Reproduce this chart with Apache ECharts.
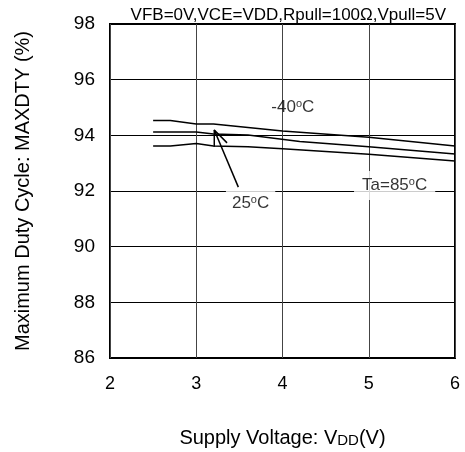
<!DOCTYPE html>
<html>
<head>
<meta charset="utf-8">
<script src="https://cdn.jsdelivr.net/npm/echarts@6/dist/echarts.min.js"></script>
<style>html,body{margin:0;padding:0;background:#fff}#c{width:465px;height:452px}</style>
</head>
<body>
<div id="c"></div>
<script>
// Data
const voltages40 = [2.5, 2.7, 3.0, 3.2, 4.0, 5.0, 6.0];
const duty40     = [94.53, 94.53, 94.41, 94.41, 94.16, 93.93, 93.62];
const voltages25 = [2.5, 3.0, 3.2, 3.6, 4.2, 5.0, 6.0];
const duty25     = [94.12, 94.12, 94.05, 94.01, 93.78, 93.59, 93.33];
const voltages85 = [2.5, 2.7, 3.0, 3.2, 3.6, 4.0, 5.0, 6.0];
const duty85     = [93.62, 93.62, 93.71, 93.62, 93.59, 93.52, 93.32, 93.08];
const xTicks = [2, 3, 4, 5, 6];
const yTicks = [86, 88, 90, 92, 94, 96, 98];
const titleText = 'VFB=0V,VCE=VDD,Rpull=100\u03A9,Vpull=5V';
// annotation anchors (data space)
const arrowShaft = [[3.488, 92.14], [3.209, 94.19]];
const arrowHead  = [[3.357, 93.73], [3.209, 94.19], [3.209, 93.59]];
const labelM40 = [4.12, 95.02];
const label25  = [3.63, 91.6];
const label85  = [5.30, 92.2];

const zip = (xs, ys) => xs.map((x, i) => [x, ys[i]]);
const FF = 'Liberation Sans, Arial, sans-serif';
const sup = {fontSize: 11, verticalAlign: 'top', lineHeight: 14, fontFamily: FF, color: '#000'};
const lineStyle = {color: '#000', width: 1.5};

const chart = echarts.init(document.getElementById('c'), null, {renderer: 'canvas'});
chart.setOption({
  animation: false,
  backgroundColor: '#fff',
  title: {
    text: titleText, right: 14, top: 2,
    textStyle: {fontFamily: FF, fontSize: 17, fontWeight: 'normal', color: '#000'}
  },
  grid: {left: 110, right: 10, top: 24, bottom: 94, show: true, borderColor: '#000', borderWidth: 2,
    backgroundColor: 'transparent', containLabel: false, outerBoundsMode: 'none'},
  xAxis: {
    type: 'value', min: xTicks[0], max: xTicks[xTicks.length - 1], interval: 1,
    axisLine: {show: false}, axisTick: {show: false},
    splitLine: {show: true, lineStyle: {color: '#444', width: 1}},
    axisLabel: {margin: 17, fontSize: 18, color: '#000', fontFamily: FF},
    name: 'Supply Voltage: V{s|DD}(V)', nameLocation: 'middle', nameGap: 70,
    nameTextStyle: {fontSize: 20, color: '#000', fontFamily: FF,
      rich: {s: {fontSize: 15, color: '#000', fontFamily: FF, verticalAlign: 'bottom', lineHeight: 19}}}
  },
  yAxis: {
    type: 'value', min: yTicks[0], max: yTicks[yTicks.length - 1], interval: 2,
    axisLine: {show: false}, axisTick: {show: false},
    splitLine: {show: true, lineStyle: {color: '#000', width: 1}},
    axisLabel: {margin: 15, fontSize: 19, color: '#000', fontFamily: FF},
    name: 'Maximum Duty Cycle: MAXDTY (%)', nameLocation: 'middle', nameGap: 77,
    nameTextStyle: {fontSize: 20, color: '#000', fontFamily: FF}
  },
  series: [
    {type: 'line', data: zip(voltages40, duty40), symbol: 'none', lineStyle, z: 3},
    {type: 'line', data: zip(voltages25, duty25), symbol: 'none', lineStyle, z: 3},
    {type: 'line', data: zip(voltages85, duty85), symbol: 'none', lineStyle, z: 3},
    {type: 'line', data: arrowShaft, symbol: 'none', lineStyle: {color: '#000', width: 1.5}, z: 5},
    {type: 'line', data: arrowHead, symbol: 'none', lineStyle: {color: '#000', width: 1.5}, z: 5},
    {type: 'scatter', symbolSize: 0, z: 4, silent: true,
      data: [
        {value: labelM40, label: {show: true, position: 'inside', formatter: '-40{o|o}C',
          fontSize: 17, color: '#000', fontFamily: FF, rich: {o: sup}}},
        {value: label25, label: {show: true, position: 'inside', formatter: '25{o|o}C',
          fontSize: 17, color: '#000', fontFamily: FF, backgroundColor: '#fff', padding: [6, 6, 4, 6], rich: {o: sup}}},
        {value: label85, label: {show: true, position: 'inside', formatter: 'Ta=85{o|o}C',
          fontSize: 17, color: '#000', fontFamily: FF, backgroundColor: '#fff', padding: [6, 8, 6, 8], rich: {o: sup}}}
      ]}
  ]
});
</script>
</body>
</html>
